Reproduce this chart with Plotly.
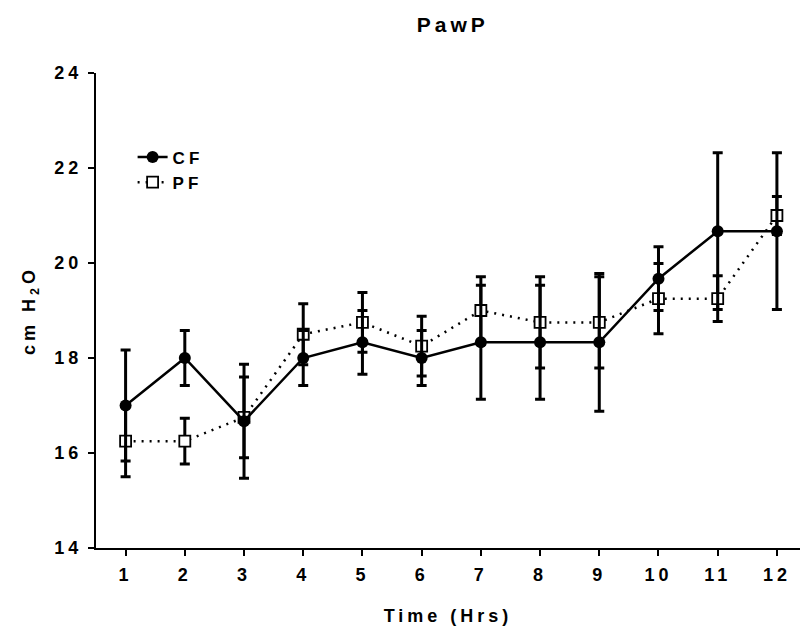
import plotly.graph_objects as go

hours = [1, 2, 3, 4, 5, 6, 7, 8, 9, 10, 11, 12]
cf_mean = [17.0, 18.0, 16.67, 18.0, 18.33, 18.0, 18.33, 18.33, 18.33, 19.67, 20.67, 20.67]
cf_err = [1.17, 0.58, 1.2, 0.58, 0.67, 0.58, 1.2, 1.2, 1.45, 0.67, 1.65, 1.65]
pf_mean = [16.25, 16.25, 16.75, 18.5, 18.75, 18.25, 19.0, 18.75, 18.75, 19.25, 19.25, 21.0]
pf_err = [0.75, 0.48, 0.85, 0.64, 0.63, 0.63, 0.71, 0.96, 0.96, 0.74, 0.48, 0.4]
y_ticks = [14, 16, 18, 20, 22, 24]

FONT = "Arial, 'Liberation Sans', sans-serif"

fig = go.Figure()
fig.add_trace(go.Scatter(
    x=hours, y=pf_mean, name="PF", mode="lines+markers",
    line=dict(color="black", width=2.5, dash="2px,6px"),
    marker=dict(symbol="square", size=11, color="white", line=dict(color="black", width=1.8)),
    error_y=dict(type="data", array=pf_err, color="black", thickness=3, width=5),
    legendrank=2,
))
fig.add_trace(go.Scatter(
    x=hours, y=cf_mean, name="CF", mode="lines+markers",
    line=dict(color="black", width=2.5),
    marker=dict(symbol="circle", size=12, color="black"),
    error_y=dict(type="data", array=cf_err, color="black", thickness=3, width=5),
    legendrank=1,
))

fig.update_layout(
    width=800, height=629,
    margin=dict(l=96, r=0, t=73, b=81),
    paper_bgcolor="white", plot_bgcolor="white",
    font=dict(family=FONT, color="black", size=16, weight="bold"),
    title=dict(text="PawP", x=0.566, xanchor="center",
               y=1 - 25 / 629, yanchor="middle", yref="container",
               font=dict(size=21, weight="bold")),
    showlegend=True,
    legend=dict(x=0.052, y=0.86, xanchor="left", yanchor="top",
                bgcolor="rgba(0,0,0,0)", font=dict(size=17, weight="bold"),
                tracegroupgap=0, itemwidth=30),
    xaxis=dict(
        range=[0.5, 12.39], tickmode="array", tickvals=hours,
        showgrid=False, zeroline=False, showline=True, linecolor="black", linewidth=2,
        ticks="outside", ticklen=6, tickwidth=2, tickcolor="black",
        tickfont=dict(size=18, weight="bold"), ticklabelstandoff=3,
        title=dict(text="Time (Hrs)", font=dict(size=18, weight="bold"), standoff=26),
        automargin=False,
    ),
    yaxis=dict(
        range=[14, 24], tickmode="array", tickvals=y_ticks,
        showgrid=False, zeroline=False, showline=True, linecolor="black", linewidth=2,
        ticks="outside", ticklen=6, tickwidth=2, tickcolor="black",
        tickfont=dict(size=18, weight="bold"), ticklabelstandoff=2,
        title=dict(text="cm H<sub>2</sub>O", font=dict(size=18, weight="bold"), standoff=22),
        automargin=False,
    ),
)

post = """
var s = document.createElement('style');
s.textContent = 'html, body {margin: 0; padding: 0;} .main-svg .xtick text, .main-svg .ytick text, .main-svg text.gtitle, .main-svg text.xtitle, .main-svg text.ytitle, .main-svg text.legendtext {letter-spacing: 4px;}';
document.head.appendChild(s);
"""

fig.write_html("out.html", post_script=post, config={"displayModeBar": False})
